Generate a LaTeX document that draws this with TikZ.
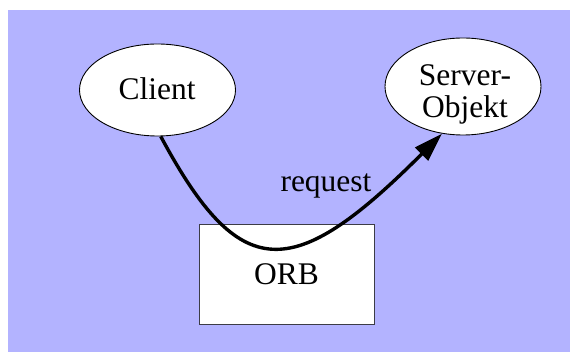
\documentclass[tikz,border=0pt]{standalone}
\usepackage{fontspec}
\setmainfont{Liberation Serif}
\usetikzlibrary{shapes.geometric,arrows.meta}
\definecolor{panel}{RGB}{179,179,255}
\definecolor{boxline}{RGB}{60,60,70}
\begin{document}
\begin{tikzpicture}[x=1pt,y=-1pt,
  lbl/.style={font=\fontsize{31.5}{32}\selectfont, inner sep=0pt},
  objnode/.style={ellipse, draw=black, line width=0.9pt, fill=white, inner sep=0pt},
  orbbox/.style={rectangle, draw=boxline, line width=0.9pt, fill=white, inner sep=0pt,
    minimum width=175pt, minimum height=100pt, font=\fontsize{31.5}{32}\selectfont},
  flow/.style={line width=3.4pt, -{Triangle[length=29pt,width=18pt]}}]
  \useasboundingbox (0,0) rectangle (570,352);
  \fill[white] (0,0) rectangle (570,352);
  \fill[panel] (8,10) rectangle (570,352);

  % the two objects and the broker
  \node[objnode, minimum width=156pt, minimum height=92pt] (client) at (157.5,90) {};
  \node[lbl, anchor=base] (clientlbl) at (157,100) {Client};
  \node[objnode, minimum width=156pt, minimum height=97pt] (server) at (463,86.5) {};
  \node[lbl, align=center] (serverlbl) at (465,94) {Server-\\Objekt};
  \node[orbbox] (orb) at (286.5,274) {ORB};

  % request routed through the broker
  \coordinate (c1) at (240,284);
  \coordinate (c2) at (292,284);
  \draw[flow] (client.-86) .. controls (c1) and (c2) .. (server.246);
  \node[lbl, anchor=base] (req) at (326,192) {request};
\end{tikzpicture}
\end{document}
